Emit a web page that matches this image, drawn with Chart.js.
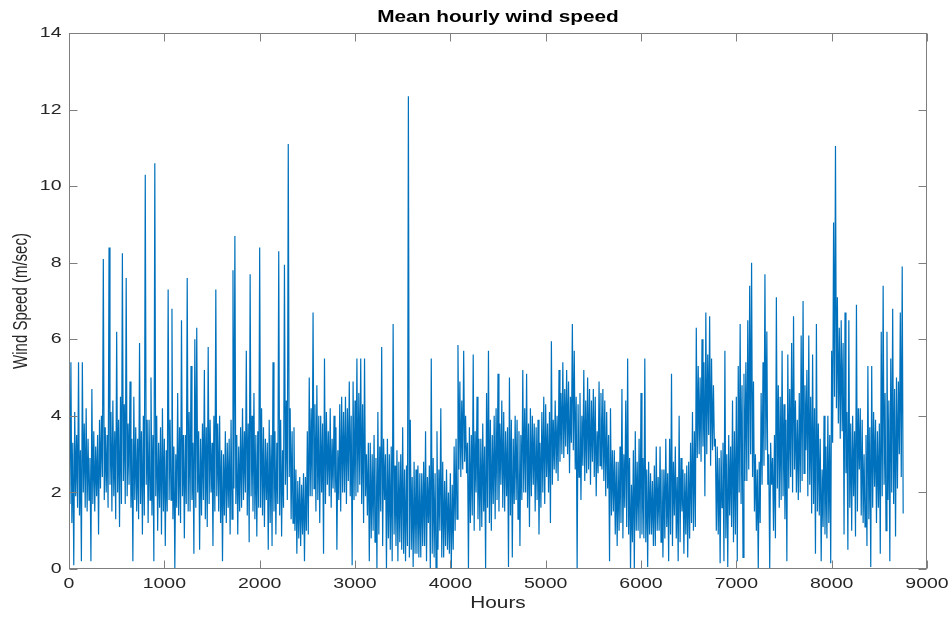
<!DOCTYPE html>
<html lang="en">
<head>
<meta charset="UTF-8">
<title>Mean hourly wind speed</title>
<script src="https://cdn.jsdelivr.net/npm/chart.js"></script>
<style>
  body { margin: 0; background: #fff; }
  canvas { display: block; }
</style>
</head>
<body>
<canvas id="grafico" width="951" height="617"></canvas>
<script>
// mean hourly wind speed (m/sec), one reading every 10 h, grouped per 1000 h
const step = 10;

const block0 = [3.6, 1.7, 5.4, 1.2, 3.3, 0.1, 4.1, 1.9, 3.5, 1.6,
                5.4, 1.4, 3.1, 0.2, 5.4, 2.0, 3.8, 1.6, 4.2, 1.5,
                3.4, 1.8, 2.9, 0.2, 4.7, 1.7, 3.6, 1.5, 3.2, 1.9,
                3.5, 0.9, 3.9, 2.1, 4.0, 2.4, 8.1, 1.8, 3.7, 2.0,
                3.5, 1.6, 8.4, 2.2, 4.1, 1.5, 4.4, 1.9, 3.6, 1.3,
                6.2, 2.0, 3.9, 1.1, 4.5, 1.7, 8.25, 2.3, 4.3, 1.7,
                7.6, 1.9, 3.8, 2.2, 4.9, 1.6, 3.4, 0.2, 4.5, 1.8,
                3.7, 1.5, 3.4, 1.3, 5.9, 1.7, 3.6, 0.9, 4.0, 1.4,
                10.3, 2.2, 3.9, 1.2, 3.9, 1.8, 5.0, 1.4, 3.5, 0.2,
                10.6, 1.9, 4.0, 1.0, 3.3, 1.6, 3.7, 0.9, 4.2, 1.5];
const block1 = [3.4, 0.6, 3.1, 1.5, 7.3, 1.8, 3.9, 1.8, 6.8, 1.3,
                3.2, 0.0, 3.0, 1.6, 4.6, 1.4, 3.7, 1.2, 6.5, 1.9,
                3.5, 0.8, 3.5, 1.7, 7.6, 1.5, 4.1, 1.5, 5.3, 1.8,
                3.3, 0.4, 6.0, 1.6, 6.3, 2.0, 3.6, 0.5, 3.4, 1.4,
                3.8, 1.8, 5.2, 1.3, 3.7, 1.1, 5.8, 1.7, 3.9, 2.0,
                3.3, 0.6, 4.0, 1.5, 7.3, 1.9, 3.8, 1.5, 4.0, 1.2,
                3.1, 0.2, 3.0, 1.4, 3.6, 1.2, 3.3, 1.6, 3.4, 0.9,
                3.9, 1.3, 7.8, 2.1, 8.7, 1.7, 3.5, 0.9, 3.2, 1.5,
                3.7, 1.6, 4.2, 1.8, 3.6, 2.0, 5.7, 1.4, 3.8, 0.7,
                7.7, 1.9, 4.0, 1.5, 4.6, 1.3, 3.5, 0.85, 3.6, 1.6];
const block2 = [8.4, 1.6, 4.2, 1.4, 3.7, 1.1, 3.4, 1.8, 3.3, 0.5,
                3.9, 1.2, 3.5, 0.6, 5.4, 1.5, 3.6, 0.9, 3.3, 1.7,
                8.3, 1.4, 3.9, 0.85, 3.1, 1.6, 7.95, 2.2, 4.4, 1.8,
                11.1, 2.4, 4.2, 1.3, 3.6, 1.2, 3.7, 1.0, 2.6, 0.4,
                2.3, 0.8, 2.4, 0.6, 2.2, 0.9, 2.5, 0.2, 2.4, 1.0,
                3.6, 0.9, 5.0, 1.9, 4.2, 1.9, 6.7, 2.1, 4.3, 1.5,
                4.8, 1.8, 4.0, 1.2, 4.0, 2.0, 3.8, 0.4, 5.5, 1.7,
                4.1, 2.2, 3.6, 1.9, 4.2, 1.6, 3.4, 2.1, 4.0, 2.0,
                3.7, 0.5, 3.1, 1.8, 4.3, 1.5, 4.5, 2.0, 4.1, 2.0,
                4.5, 1.7, 4.2, 2.3, 4.9, 1.9, 4.0, 0.1, 4.9, 1.8];
const block3 = [4.4, 1.9, 5.5, 2.0, 4.6, 2.2, 5.5, 1.7, 4.3, 1.2,
                5.5, 1.9, 3.0, 1.4, 3.3, 0.2, 3.3, 0.8, 3.0, 1.0,
                3.5, 0.7, 2.9, 0.0, 4.1, 0.9, 3.2, 1.5, 5.8, 0.6,
                3.4, 1.8, 3.0, 0.0, 3.4, 0.8, 3.0, 0.5, 3.2, 0.2,
                6.4, 0.9, 2.7, 0.6, 3.1, 0.2, 2.8, 0.7, 3.0, 0.5,
                3.7, 0.4, 2.6, 0.2, 2.7, 0.6, 12.35, 0.3, 3.9, 0.5,
                2.4, 0.05, 2.8, 0.4, 2.6, 0.4, 2.7, 0.3, 2.5, 0.3,
                2.5, 0.6, 2.8, 0.6, 3.6, 0.2, 2.4, 1.2, 2.7, 0.0,
                5.5, 0.4, 2.9, 0.3, 2.5, 0.0, 3.6, 0.5, 2.6, 1.0,
                4.2, 0.3, 2.8, 0.3, 2.3, 0.6, 2.6, 0.5, 2.0, 0.4];
const block4 = [2.5, 0.0, 2.2, 0.5, 3.2, 1.0, 3.4, 1.3, 5.85, 2.6,
                4.9, 2.4, 4.4, 2.6, 5.7, 2.8, 4.0, 2.5, 3.3, 0.0,
                3.7, 1.2, 3.5, 1.4, 5.6, 1.0, 3.6, 2.0, 4.5, 1.3,
                3.4, 1.0, 3.4, 1.1, 3.8, 1.5, 3.2, 0.0, 4.6, 1.6,
                5.7, 1.2, 3.9, 1.0, 3.5, 1.7, 4.0, 1.3, 4.2, 1.8,
                5.1, 1.5, 3.8, 2.2, 4.4, 1.6, 4.1, 1.5, 3.6, 1.9,
                3.7, 0.05, 5.0, 1.4, 3.9, 0.3, 3.4, 1.7, 4.0, 1.8,
                3.9, 1.3, 3.6, 0.6, 3.5, 1.8, 5.2, 2.0, 4.2, 2.0,
                5.1, 1.6, 3.8, 1.1, 4.2, 1.9, 4.0, 2.2, 3.8, 1.5,
                3.7, 1.8, 3.9, 0.9, 3.3, 1.6, 4.1, 2.0, 4.5, 1.7];
const block5 = [4.3, 2.4, 3.8, 2.0, 4.1, 1.2, 5.95, 2.2, 3.9, 2.6,
                4.4, 2.5, 4.0, 2.3, 5.2, 2.8, 4.6, 3.0, 5.4, 2.9,
                4.7, 3.2, 5.2, 3.0, 4.9, 2.5, 4.5, 3.3, 6.4, 3.1,
                5.7, 2.6, 4.5, 0.0, 4.3, 2.4, 4.6, 1.8, 4.0, 2.7,
                5.2, 2.3, 4.4, 2.5, 5.0, 2.6, 4.7, 2.2, 4.4, 2.8,
                4.7, 2.4, 4.5, 1.9, 3.6, 2.5, 4.9, 2.7, 4.6, 2.6,
                4.7, 2.3, 4.4, 1.9, 4.1, 2.1, 3.5, 0.2, 4.2, 1.4,
                3.1, 1.5, 3.1, 0.9, 2.8, 0.6, 2.8, 1.0, 3.2, 1.2,
                4.7, 0.8, 3.0, 1.6, 4.4, 1.1, 5.5, 0.9, 2.9, 0.0,
                2.2, 0.7, 3.1, 0.0, 3.6, 1.0, 2.8, 1.0, 3.4, 0.8];
const block6 = [4.6, 0.9, 2.9, 0.8, 5.5, 0.7, 2.6, 0.05, 2.8, 0.9,
                2.5, 0.9, 2.3, 0.6, 2.7, 0.6, 3.2, 1.0, 2.4, 1.0,
                3.2, 0.7, 2.6, 0.3, 2.6, 0.8, 3.4, 1.1, 2.5, 0.2,
                3.4, 0.9, 5.1, 0.6, 2.8, 1.4, 3.2, 0.8, 2.4, 0.2,
                4.0, 0.7, 2.9, 1.5, 2.6, 0.4, 2.5, 0.9, 2.7, 0.3,
                2.8, 0.8, 3.3, 1.2, 4.1, 1.0, 3.6, 1.1, 6.3, 2.9,
                5.3, 3.0, 5.0, 2.8, 6.0, 3.2, 5.4, 1.9, 6.7, 3.0,
                5.6, 3.5, 6.6, 2.7, 5.5, 3.1, 4.8, 3.2, 3.4, 1.0,
                3.2, 0.9, 2.9, 0.15, 3.1, 1.6, 3.3, 0.2, 5.7, 0.8,
                3.0, 0.05, 3.5, 1.4, 3.2, 1.1, 4.4, 0.7, 3.6, 0.9];
const block7 = [4.5, 0.2, 5.3, 2.0, 6.4, 1.7, 4.8, 0.3, 5.1, 2.3,
                5.4, 2.3, 6.5, 2.6, 7.4, 3.0, 8.0, 2.4, 4.9, 1.5,
                3.0, 1.0, 2.6, 0.0, 2.8, 1.2, 4.6, 2.2, 5.4, 2.7,
                7.7, 3.1, 6.2, 2.2, 3.0, 0.0, 3.3, 2.2, 2.9, 1.0,
                3.5, 0.8, 7.1, 2.1, 4.8, 1.6, 4.5, 1.8, 5.7, 1.9,
                4.3, 1.3, 3.9, 0.2, 5.6, 2.1, 4.7, 2.4, 5.9, 2.0,
                6.6, 2.6, 4.4, 2.0, 3.9, 1.8, 4.6, 2.0, 6.1, 2.3,
                7.0, 2.5, 4.8, 3.1, 5.2, 1.9, 6.1, 2.2, 4.5, 1.45,
                5.6, 1.7, 4.2, 0.4, 6.4, 1.5, 3.8, 1.4, 3.4, 0.2,
                2.6, 1.1, 4.0, 0.9, 3.2, 0.8, 4.0, 1.2, 3.5, 0.15];
const block8 = [5.7, 3.3, 9.05, 4.5, 11.05, 4.2, 7.1, 3.8, 6.3, 3.4,
                6.5, 3.6, 5.9, 0.9, 6.7, 2.5, 4.1, 0.5, 6.5, 1.6,
                3.8, 1.0, 4.0, 1.9, 3.6, 0.85, 6.9, 1.5, 4.2, 2.6,
                4.2, 1.4, 3.9, 1.2, 3.0, 1.1, 3.5, 0.6, 5.3, 1.3,
                3.7, 0.05, 5.3, 1.6, 4.1, 2.15, 3.9, 1.2, 3.6, 1.6,
                3.8, 0.4, 6.2, 1.9, 7.4, 2.2, 4.6, 1.0, 6.2, 1.8,
                4.4, 0.2, 5.5, 2.0, 6.8, 1.7, 4.7, 0.85, 5.0, 2.1,
                4.9, 3.0, 6.7, 2.4, 7.9, 1.45];

const blocks = [block0, block1, block2, block3, block4, block5, block6, block7, block8];
const xTicks = [0, 1000, 2000, 3000, 4000, 5000, 6000, 7000, 8000, 9000];
const yTicks = [0, 2, 4, 6, 8, 10, 12, 14];

// {x: hour, y: speed}
const puntos = [];
blocks.forEach((b, k) => {
    b.forEach((v, i) => puntos.push({ x: k * 1000 + i * step, y: v }));
});

// the figure text is wide, so glyphs get stretched sideways
const ancho = 1.3;

function texto(ctx, str, x, y, font, align, color, girar) {
    ctx.save();
    ctx.translate(x, y);
    ctx.scale(ancho, 1);
    if (girar) ctx.rotate(-Math.PI / 2);
    ctx.font = font;
    ctx.fillStyle = color;
    ctx.textAlign = align;
    ctx.textBaseline = 'middle';
    ctx.fillText(str, 0, 0);
    ctx.restore();
}

// box, inner ticks, tick labels and titles
const marco = {
    id: 'marco',
    afterDraw(chart) {
        const ctx = chart.ctx;
        const sx = chart.scales.x, sy = chart.scales.y;
        const l = Math.round(chart.chartArea.left) + 0.5;
        const r = Math.round(chart.chartArea.right) - 0.5;
        const t = Math.round(chart.chartArea.top) + 0.5;
        const b = Math.round(chart.chartArea.bottom) - 0.5;

        ctx.save();
        ctx.strokeStyle = '#7f7f7f';
        ctx.lineWidth = 1;
        ctx.strokeRect(l, t, r - l, b - t);
        ctx.beginPath();
        xTicks.forEach(v => {
            const px = Math.round(sx.getPixelForValue(v)) + 0.5;
            ctx.moveTo(px, b); ctx.lineTo(px, b - 8);
            ctx.moveTo(px, t); ctx.lineTo(px, t + 8);
        });
        yTicks.forEach(v => {
            const py = Math.round(sy.getPixelForValue(v)) + 0.5;
            ctx.moveTo(l, py); ctx.lineTo(l + 8, py);
            ctx.moveTo(r, py); ctx.lineTo(r - 8, py);
        });
        ctx.stroke();
        ctx.restore();

        const fTick = '15px "Liberation Sans", Arial, sans-serif';
        xTicks.forEach(v => {
            texto(ctx, String(v), sx.getPixelForValue(v), b + 15, fTick, 'center', '#262626');
        });
        yTicks.forEach(v => {
            texto(ctx, String(v), l - 8, sy.getPixelForValue(v), fTick, 'right', '#262626');
        });

        const mid = (l + r) / 2;
        texto(ctx, 'Mean hourly wind speed', mid, 18, 'bold 16px "Liberation Sans", Arial, sans-serif', 'center', '#000');
        texto(ctx, 'Hours', mid, 604, '16px "Liberation Sans", Arial, sans-serif', 'center', '#262626');
        texto(ctx, 'Wind Speed (m/sec)', 22, (t + b) / 2, '15px "Liberation Sans", Arial, sans-serif', 'center', '#262626', true);
    }
};

const ctx = document.getElementById('grafico').getContext('2d');
const chart = new Chart(ctx, {
    type: 'line',
    data: {
        datasets: [{
            label: 'Wind speed',
            data: puntos,
            borderColor: '#0072BD',
            borderWidth: 1.2,
            pointRadius: 0,
            tension: 0,
            fill: false
        }]
    },
    options: {
        responsive: false,
        animation: false,
        layout: { padding: { top: 33, right: 24, left: 0, bottom: 0 } },
        plugins: {
            legend: { display: false },
            title: { display: false },
            tooltip: { enabled: false }
        },
        scales: {
            x: {
                type: 'linear',
                min: 0,
                max: 9000,
                ticks: { display: false, stepSize: 1000 },
                grid: { display: false },
                border: { display: false },
                afterFit(s) { s.height = 48; }
            },
            y: {
                min: 0,
                max: 14,
                ticks: { display: false, stepSize: 2 },
                grid: { display: false },
                border: { display: false },
                afterFit(s) { s.width = 69; }
            }
        }
    },
    plugins: [marco]
});
</script>
</body>
</html>
